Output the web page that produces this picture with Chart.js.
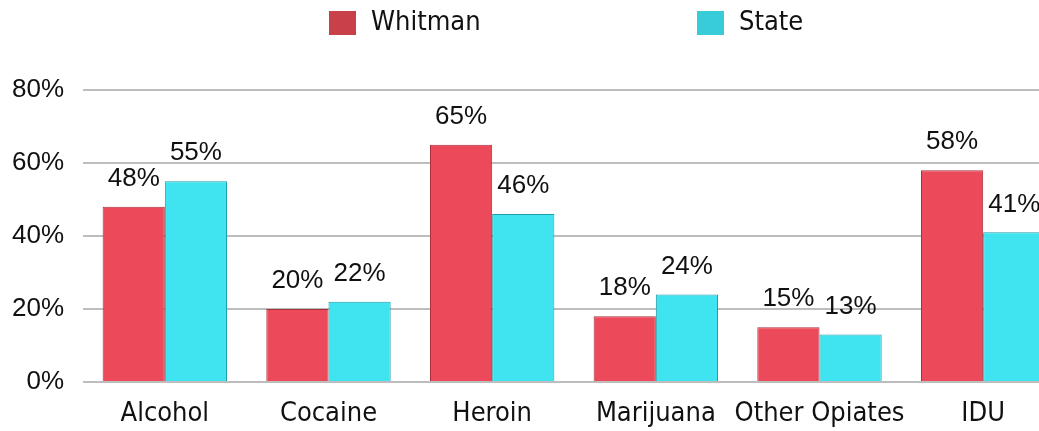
<!DOCTYPE html>
<html>
<head>
<meta charset="utf-8">
<script src="https://cdn.jsdelivr.net/npm/chart.js@4/dist/chart.umd.min.js"></script>
<style>
    body { margin: 0; overflow: hidden; background: #fff; }
    #wrap { position: relative; width: 1070px; height: 431px; }
    .legend { position: absolute; top: 5px; font-family: "DejaVu Sans Condensed", "DejaVu Sans", sans-serif; font-size: 27px; color: #111; }
    .legend span.box { position: absolute; top: 6px; width: 27px; height: 24px; }
</style>
</head>
<body>
<div id="wrap">
    <canvas id="drugChart" width="1070" height="431"></canvas>
    <div class="legend" style="left:329px"><span class="box" style="left:0;background:#C8404A"></span><span style="position:absolute;left:42px;white-space:nowrap">Whitman</span></div>
    <div class="legend" style="left:697px"><span class="box" style="left:0;background:#38CCD8"></span><span style="position:absolute;left:42px;white-space:nowrap">State</span></div>
</div>
<script>
// chart data
var categories = ['Alcohol', 'Cocaine', 'Heroin', 'Marijuana', 'Other Opiates', 'IDU'];
var whitmanValues = [48, 20, 65, 18, 15, 58];
var stateValues = [55, 22, 46, 24, 13, 41];
var yTicks = [0, 20, 40, 60, 80];

// draws the % label above each bar
var valueLabels = {
    id: 'valueLabels',
    afterDatasetsDraw: function(chart) {
        var ctx = chart.ctx;
        ctx.save();
        ctx.font = '26px "Liberation Sans", Arial, sans-serif';
        ctx.fillStyle = '#111';
        ctx.textAlign = 'center';
        ctx.textBaseline = 'middle';
        chart.data.datasets.forEach(function(ds, i) {
            var meta = chart.getDatasetMeta(i);
            meta.data.forEach(function(bar, j) {
                ctx.fillText(ds.data[j] + '%', bar.x, bar.y - 28);
            });
        });
        ctx.restore();
    }
};

var ctx = document.getElementById('drugChart').getContext('2d');
var chart1 = new Chart(ctx, {
    type: 'bar',
    data: {
        labels: categories,
        datasets: [{
            label: 'Whitman',
            data: whitmanValues,
            backgroundColor: '#EC4A5A',
            borderColor: '#A8303E',
            borderWidth: 1
        }, {
            label: 'State',
            data: stateValues,
            backgroundColor: '#40E4F0',
            borderColor: '#1E9EA8',
            borderWidth: 1
        }]
    },
    options: {
        responsive: false,
        animation: false,
        layout: { padding: { top: 90, right: 5, left: 0, bottom: 0 } },
        plugins: {
            legend: { display: false },
            tooltip: { enabled: false }
        },
        datasets: {
            bar: { categoryPercentage: 0.76, barPercentage: 1.0 }
        },
        scales: {
            x: {
                grid: { display: false, drawTicks: false },
                border: { display: false },
                ticks: {
                    padding: 16,
                    color: '#111',
                    autoSkip: false,
                    maxRotation: 0,
                    minRotation: 0,
                    font: { family: '"DejaVu Sans Condensed", "DejaVu Sans", sans-serif', size: 27 }
                },
                afterFit: function(scale) { scale.height = 49; }
            },
            y: {
                min: 0,
                max: 80,
                afterBuildTicks: function(scale) {
                    scale.ticks = yTicks.map(function(v) { return { value: v }; });
                },
                grid: { color: '#BDBDBD', lineWidth: 2, drawTicks: false },
                border: { display: false },
                ticks: {
                    padding: 19,
                    color: '#111',
                    font: { family: '"Liberation Sans", Arial, sans-serif', size: 26 },
                    callback: function(v) { return v + '%'; }
                },
                afterFit: function(scale) { scale.width = 83; }
            }
        }
    },
    plugins: [valueLabels]
});
</script>
</body>
</html>
